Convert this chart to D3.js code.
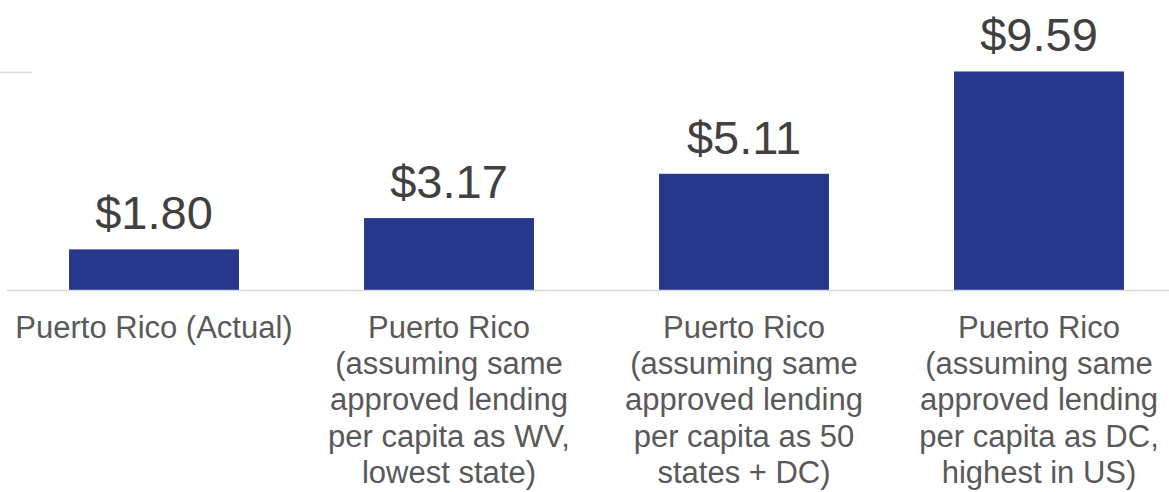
<!DOCTYPE html>
<html>
<head>
<meta charset="utf-8">
<script src="https://cdn.jsdelivr.net/npm/d3@7"></script>
<style>
  html, body { margin: 0; padding: 0; background: #ffffff; }
  svg { display: block; }
</style>
</head>
<body>
<svg id="chart" width="1169" height="492"></svg>
<script>
// ---- data ----
const categories = [
  ["Puerto Rico (Actual)"],
  ["Puerto Rico", "(assuming same", "approved lending", "per capita as WV,", "lowest state)"],
  ["Puerto Rico", "(assuming same", "approved lending", "per capita as 50", "states + DC)"],
  ["Puerto Rico", "(assuming same", "approved lending", "per capita as DC,", "highest in US)"]
];
const values = [1.80, 3.17, 5.11, 9.59];
const valueLabels = ["$1.80", "$3.17", "$5.11", "$9.59"];
const gridValues = [9.55];

// ---- layout ----
const W = 1169, H = 492;
const svg = d3.select("#chart");
const font = "'Liberation Sans', Arial, sans-serif";

const x = d3.scaleBand()
  .domain(d3.range(values.length))
  .range([6.5, 1186.5])
  .paddingInner(0.424)
  .paddingOuter(0.212);

const y = d3.scaleLinear()
  .domain([0, 10])
  .range([290.5, 62.1]);

// partial gridline at top-left
svg.selectAll("line.grid")
  .data(gridValues)
  .enter().append("line")
  .attr("class", "grid")
  .attr("x1", 0).attr("x2", 32)
  .attr("y1", d => y(d)).attr("y2", d => y(d))
  .attr("stroke", "#d9d9d9").attr("stroke-width", 1.5);

// bars
svg.selectAll("rect.bar")
  .data(values)
  .enter().append("rect")
  .attr("class", "bar")
  .attr("x", (d, i) => x(i))
  .attr("width", x.bandwidth())
  .attr("y", d => y(d))
  .attr("height", d => y(0) - y(d))
  .attr("fill", "#27378b");

// baseline
svg.append("line")
  .attr("x1", 7).attr("x2", W)
  .attr("y1", y(0)).attr("y2", y(0))
  .attr("stroke", "#d9d9d9").attr("stroke-width", 1.5);

// value labels
svg.selectAll("text.val")
  .data(values)
  .enter().append("text")
  .attr("class", "val")
  .attr("x", (d, i) => x(i) + x.bandwidth() / 2)
  .attr("y", d => y(d) - 20)
  .attr("text-anchor", "middle")
  .attr("font-family", font)
  .attr("font-size", 47)
  .attr("fill", "#404040")
  .text((d, i) => valueLabels[i]);

// category labels
const cat = svg.selectAll("text.cat")
  .data(categories)
  .enter().append("text")
  .attr("class", "cat")
  .attr("text-anchor", "middle")
  .attr("font-family", font)
  .attr("font-size", 31)
  .attr("fill", "#595959");

cat.each(function(lines, i) {
  const t = d3.select(this);
  lines.forEach((ln, j) => {
    t.append("tspan")
      .attr("x", x(i) + x.bandwidth() / 2)
      .attr("y", y(0) + 47 + j * 36.4)
      .text(ln);
  });
});
</script>
</body>
</html>
